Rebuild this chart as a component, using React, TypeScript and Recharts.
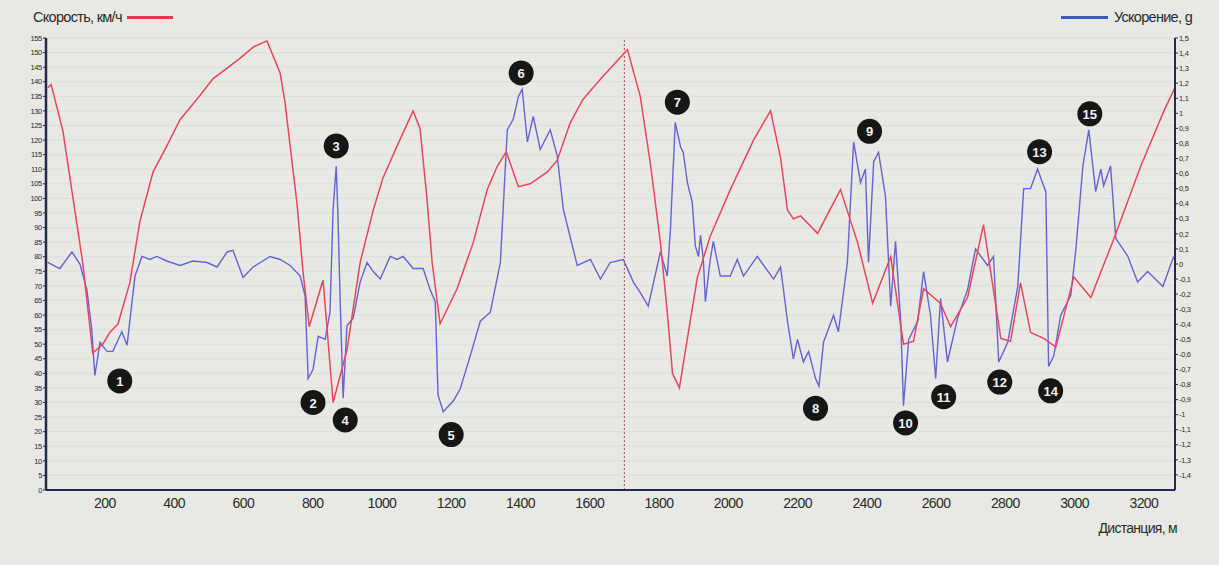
import { ComposedChart, Line, Scatter, XAxis, YAxis, CartesianGrid, ReferenceLine } from 'recharts'

// speed trace (km/h)
const speedDist = [35, 45, 79, 136, 165, 194, 214, 238, 272, 301, 339, 379, 417, 466, 512, 590, 630, 668, 706, 720, 735, 755, 772, 790, 830, 859, 899, 937, 975, 1003, 1044, 1090, 1110, 1130, 1145, 1168, 1217, 1264, 1304, 1333, 1359, 1394, 1428, 1477, 1506, 1544, 1581, 1639, 1709, 1746, 1775, 1804, 1824, 1839, 1859, 1882, 1911, 1948, 2006, 2073, 2122, 2151, 2171, 2188, 2209, 2258, 2324, 2373, 2417, 2469, 2506, 2535, 2564, 2613, 2642, 2691, 2737, 2787, 2815, 2844, 2873, 2911, 2946, 2998, 3047, 3113, 3191, 3258, 3290]
const speedKmh = [138, 139, 123, 78, 47, 50, 54, 57, 71, 92, 109, 118, 127, 134, 141, 148, 152, 154, 143, 133, 118, 98, 75, 56, 72, 30, 48, 78, 96, 107, 118, 130, 124, 100, 78, 57, 69, 85, 103, 111, 116, 104, 105, 109, 113, 126, 134, 142, 151, 135, 112, 85, 61, 40, 35, 52, 73, 87, 103, 120, 130, 114, 96, 93, 94, 88, 103, 85, 64, 80, 50, 51, 69, 64, 56, 66, 91, 52, 51, 71, 54, 52, 49, 73, 66, 86, 111, 130, 138]

// longitudinal acceleration (g)
const accelDist = [35, 70, 105, 128, 148, 162, 171, 186, 206, 223, 249, 264, 287, 307, 330, 350, 379, 417, 454, 495, 524, 553, 570, 599, 628, 677, 706, 735, 764, 778, 787, 801, 816, 836, 850, 859, 868, 873, 879, 888, 899, 917, 937, 957, 975, 995, 1024, 1044, 1061, 1076, 1090, 1119, 1139, 1154, 1162, 1177, 1206, 1226, 1255, 1284, 1313, 1342, 1362, 1379, 1394, 1405, 1420, 1437, 1457, 1486, 1506, 1524, 1564, 1602, 1631, 1659, 1697, 1726, 1746, 1769, 1804, 1824, 1833, 1847, 1862, 1870, 1882, 1896, 1905, 1914, 1920, 1928, 1934, 1948, 1957, 1977, 2006, 2026, 2044, 2084, 2131, 2151, 2171, 2188, 2200, 2217, 2232, 2252, 2262, 2275, 2304, 2318, 2344, 2362, 2382, 2396, 2405, 2420, 2434, 2454, 2469, 2483, 2498, 2506, 2521, 2547, 2564, 2584, 2599, 2613, 2633, 2662, 2691, 2714, 2749, 2766, 2781, 2807, 2836, 2853, 2873, 2893, 2917, 2925, 2940, 2960, 2989, 3003, 3024, 3041, 3061, 3076, 3084, 3104, 3119, 3154, 3182, 3211, 3255, 3286]
const accelG = [0.01, -0.03, 0.08, 0, -0.17, -0.43, -0.74, -0.52, -0.58, -0.58, -0.45, -0.54, -0.08, 0.05, 0.03, 0.05, 0.02, -0.01, 0.02, 0.01, -0.02, 0.08, 0.09, -0.09, -0.02, 0.05, 0.03, -0.01, -0.08, -0.21, -0.76, -0.7, -0.48, -0.5, -0.32, 0.36, 0.65, 0.32, -0.21, -0.89, -0.41, -0.36, -0.12, 0.01, -0.05, -0.1, 0.05, 0.03, 0.05, 0.01, -0.03, -0.03, -0.17, -0.25, -0.87, -0.98, -0.91, -0.83, -0.61, -0.38, -0.32, 0.01, 0.89, 0.96, 1.11, 1.16, 0.81, 0.98, 0.76, 0.89, 0.72, 0.36, -0.01, 0.03, -0.1, 0.01, 0.03, -0.12, -0.19, -0.28, 0.08, -0.08, 0.23, 0.94, 0.78, 0.74, 0.54, 0.41, 0.12, 0.05, 0.19, 0.03, -0.25, 0.03, 0.15, -0.08, -0.08, 0.03, -0.08, 0.05, -0.1, -0.02, -0.38, -0.63, -0.5, -0.65, -0.58, -0.76, -0.81, -0.52, -0.34, -0.45, 0.01, 0.81, 0.54, 0.63, 0.01, 0.68, 0.74, 0.45, -0.28, 0.15, -0.38, -0.94, -0.5, -0.38, -0.05, -0.34, -0.76, -0.23, -0.65, -0.36, -0.17, 0.1, -0.01, 0.05, -0.65, -0.52, -0.15, 0.5, 0.5, 0.63, 0.48, -0.68, -0.61, -0.34, -0.21, 0.08, 0.65, 0.89, 0.48, 0.63, 0.52, 0.65, 0.17, 0.05, -0.12, -0.05, -0.15, 0.05]

// numbered callouts, placed in distance / speed units
const markerDist = [243, 801, 868, 894, 1200, 1402, 1853, 2252, 2408, 2512, 2622, 2784, 2899, 2931, 3044]
const markerSpeed = [37.4, 30, 118, 24, 19, 143, 133, 28, 123, 23, 32, 37, 116, 34, 129]
const markerNum = ['1', '2', '3', '4', '5', '6', '7', '8', '9', '10', '11', '12', '13', '14', '15']

const distTicks = [200, 400, 600, 800, 1000, 1200, 1400, 1600, 1800, 2000, 2200, 2400, 2600, 2800, 3000, 3200]
const speedTicks = [0, 5, 10, 15, 20, 25, 30, 35, 40, 45, 50, 55, 60, 65, 70, 75, 80, 85, 90, 95, 100, 105, 110, 115, 120, 125, 130, 135, 140, 145, 150, 155]
const accelTicks = [1.5, 1.4, 1.3, 1.2, 1.1, 1, 0.9, 0.8, 0.7, 0.6, 0.5, 0.4, 0.3, 0.2, 0.1, 0, -0.1, -0.2, -0.3, -0.4, -0.5, -0.6, -0.7, -0.8, -0.9, -1, -1.1, -1.2, -1.3, -1.4]

const speedData = speedDist.map((d, i) => ({ d, v: speedKmh[i] }))
const accelData = accelDist.map((d, i) => ({ d, a: accelG[i] }))
const markerData = markerDist.map((d, i) => ({ d, v: markerSpeed[i], n: markerNum[i] }))

const FONT = "'Liberation Sans Narrow', 'Liberation Sans', Arial, sans-serif"
const AXIS = '#232a4e'

const Badge = (p: any) => (
  <g>
    <circle cx={p.cx} cy={p.cy} r={12.5} fill="#161616" />
    <text x={p.cx} y={p.cy + 5} textAnchor="middle" fill="#f2f2f2" fontSize={13} fontFamily={FONT} fontWeight={700}>
      {p.payload.n}
    </text>
  </g>
)

const fmtG = (v: number) => (v === 0 ? '0' : String(Math.round(v * 10) / 10).replace('.', ','))

export default function App() {
  return (
    <div style={{ position: 'absolute', left: 0, top: 0, width: 1219, height: 565, background: '#e8e8e4', fontFamily: FONT }}>
      <ComposedChart width={1219} height={565} margin={{ top: 38, right: 0, bottom: 45, left: 0 }}>
        <CartesianGrid yAxisId="speed" vertical={false} stroke="#dadad6" strokeWidth={0.7} />
        <XAxis
          xAxisId="top"
          orientation="top"
          type="number"
          dataKey="d"
          domain={[30, 3290]}
          height={0}
          tick={false}
          tickLine={false}
          axisLine={{ stroke: '#555', strokeWidth: 1.5 }}
        />
        <XAxis
          type="number"
          dataKey="d"
          domain={[30, 3290]}
          allowDataOverflow
          ticks={distTicks}
          tickSize={0}
          tickMargin={8}
          height={30}
          axisLine={{ stroke: AXIS, strokeWidth: 2 }}
          tick={{ fill: '#2b2b2b', fontSize: 14, fontFamily: FONT, letterSpacing: -0.6 }}
        />
        <YAxis
          yAxisId="speed"
          type="number"
          domain={[0, 155]}
          ticks={speedTicks}
          interval={0}
          width={46}
          tickSize={3}
          tickMargin={1}
          axisLine={{ stroke: AXIS, strokeWidth: 2.5 }}
          tickLine={{ stroke: AXIS }}
          tick={{ fill: '#2b2b2b', fontSize: 7.5, fontFamily: FONT, letterSpacing: -0.3 }}
        />
        <YAxis
          yAxisId="accel"
          orientation="right"
          type="number"
          domain={[-1.5, 1.5]}
          ticks={accelTicks}
          interval={0}
          width={44}
          tickSize={3}
          tickMargin={1}
          tickFormatter={fmtG}
          axisLine={{ stroke: AXIS, strokeWidth: 2 }}
          tickLine={{ stroke: AXIS }}
          tick={{ fill: '#2b2b2b', fontSize: 7.5, fontFamily: FONT, letterSpacing: -0.3 }}
        />
        <ReferenceLine yAxisId="speed" x={1700} stroke="#b5464c" strokeDasharray="2 2" strokeWidth={1} />
        <Line
          yAxisId="accel"
          data={accelData}
          dataKey="a"
          type="linear"
          stroke="#6563d4"
          strokeWidth={1.4}
          dot={false}
          isAnimationActive={false}
        />
        <Line
          yAxisId="speed"
          data={speedData}
          dataKey="v"
          type="linear"
          stroke="#e8475a"
          strokeWidth={1.5}
          dot={false}
          isAnimationActive={false}
        />
        <Scatter yAxisId="speed" data={markerData} dataKey="v" shape={Badge} isAnimationActive={false} />
      </ComposedChart>
      <div style={{ position: 'absolute', left: 33, top: 9, fontSize: 14.5, color: '#2b2b2b', display: 'flex', alignItems: 'center', letterSpacing: -0.7 }}>
        <span>Скорость, км/ч</span>
        <span style={{ display: 'inline-block', width: 46, height: 3, background: '#e5394c', marginLeft: 5 }} />
      </div>
      <div style={{ position: 'absolute', right: 27, top: 9, fontSize: 14.5, color: '#2b2b2b', display: 'flex', alignItems: 'center', letterSpacing: -0.7 }}>
        <span style={{ display: 'inline-block', width: 47, height: 3, background: '#3c56c2', marginRight: 6 }} />
        <span>Ускорение, g</span>
      </div>
      <div style={{ position: 'absolute', right: 42, top: 520, fontSize: 14, color: '#2b2b2b', letterSpacing: -0.7 }}>Дистанция, м</div>
    </div>
  )
}
